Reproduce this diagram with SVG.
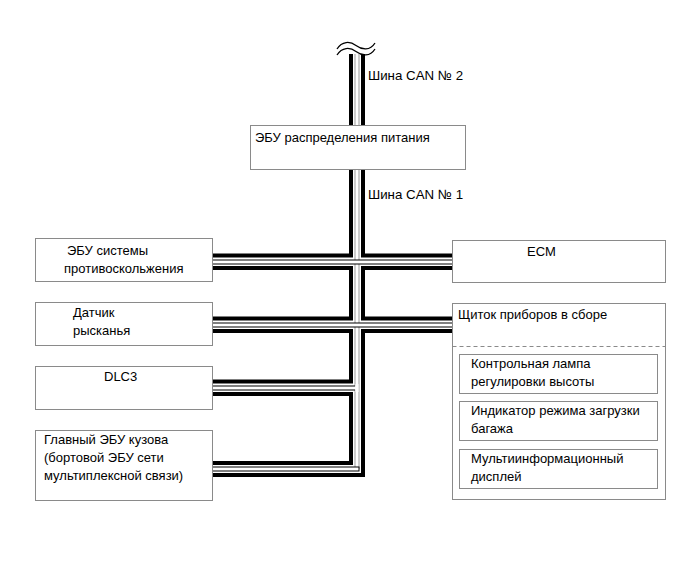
<svg xmlns="http://www.w3.org/2000/svg" width="691" height="564" viewBox="0 0 691 564">
<style>
.box{fill:#fff;stroke:#8a8a8a;stroke-width:1}
.t{font-family:"Liberation Sans",Arial,sans-serif;font-size:13px;fill:#000}
.blk{fill:none;stroke:#000;stroke-width:4;stroke-linejoin:miter}
.wo{fill:none;stroke:#000;stroke-width:5}
.wi{fill:none;stroke:#fff;stroke-width:3}
.vo{fill:none;stroke:#9a9a9a;stroke-width:5}
.vi{fill:none;stroke:#fff;stroke-width:3}
.wave{fill:none;stroke:#000;stroke-width:1.3}
</style>
<rect width="691" height="564" fill="#fff"/>
<g id="connectors">
  <path class="wave" d="M337,49 C342,41 350,41 356,45.5 C362,50 370,51 375,43"/>
  <path class="wave" d="M337,55 C342,47 350,47 356,51.5 C362,56 370,57 375,49"/>
  <!-- vertical white wire -->
  <path class="vo" d="M357,54 V126 M357,169 V469"/>
  <path class="vi" d="M357,54 V126 M357,169 V469"/>
  <!-- black trunk lines -->
  <path class="blk" d="M351,54 V126 M363,54 V126"/>
  <path class="blk" d="M213,255.5 H351 V169 M363,169 V255.5 H452"/>
  <path class="blk" d="M213,268 H351 V318.5 H213 M452,268 H363 V318.5 H452"/>
  <path class="blk" d="M213,331 H351 V381.5 H213"/>
  <path class="blk" d="M213,394 H351 V463 H213"/>
  <path class="blk" d="M452,331 H363 V475 H213"/>
  <!-- horizontal white wires -->
  <path class="wo" d="M213,262 H452 M213,325 H452 M213,388 H355 M213,469 H359.5"/>
  <path class="wi" d="M213,262 H452 M213,325 H452 M213,388 H358 M213,469 H358.5"/>
  <path class="vi" d="M357,384 V392"/>
</g>
<g id="n-power">
  <rect class="box" x="250.5" y="125.5" width="215" height="44"/>
  <text class="t" x="255" y="141.5">ЭБУ распределения питания</text>
</g>
<g id="lbl-can2"><text class="t" x="368" y="79.5" style="font-size:13.3px">Шина CAN № 2</text></g>
<g id="lbl-can1"><text class="t" x="368" y="199" style="font-size:13.3px">Шина CAN № 1</text></g>
<g id="n-skid">
  <rect class="box" x="35.5" y="238.5" width="177" height="43"/>
  <text class="t" x="67" y="255">ЭБУ системы</text>
  <text class="t" x="64" y="273">противоскольжения</text>
</g>
<g id="n-yaw">
  <rect class="box" x="35.5" y="302.5" width="177" height="43"/>
  <text class="t" x="73" y="317">Датчик</text>
  <text class="t" x="73" y="335">рысканья</text>
</g>
<g id="n-dlc3">
  <rect class="box" x="35.5" y="366.5" width="177" height="43"/>
  <text class="t" x="104" y="381">DLC3</text>
</g>
<g id="n-body">
  <rect class="box" x="35.5" y="430.5" width="177" height="70"/>
  <text class="t" x="44" y="444">Главный ЭБУ кузова</text>
  <text class="t" x="44" y="462">(бортовой ЭБУ сети</text>
  <text class="t" x="44" y="480">мультиплексной связи)</text>
</g>
<g id="n-ecm">
  <rect class="box" x="452.5" y="240.5" width="213" height="42"/>
  <text class="t" x="527" y="256">ECM</text>
</g>
<g id="n-meter">
  <rect class="box" x="452.5" y="303.5" width="213" height="196"/>
  <text class="t" x="458" y="319">Щиток приборов в сборе</text>
  <line x1="452.5" y1="346.5" x2="665.5" y2="346.5" stroke="#8a8a8a" stroke-width="1" stroke-dasharray="4,3"/>
</g>
<g id="n-lamp">
  <rect class="box" x="459.5" y="354.5" width="198" height="39"/>
  <text class="t" x="471" y="368">Контрольная лампа</text>
  <text class="t" x="471" y="386">регулировки высоты</text>
</g>
<g id="n-luggage">
  <rect class="box" x="459.5" y="401.5" width="198" height="39"/>
  <text class="t" x="471" y="415">Индикатор режима загрузки</text>
  <text class="t" x="471" y="433">багажа</text>
</g>
<g id="n-multi">
  <rect class="box" x="459.5" y="449.5" width="198" height="39"/>
  <text class="t" x="471" y="463">Мультиинформационный</text>
  <text class="t" x="471" y="481">дисплей</text>
</g>
</svg>
